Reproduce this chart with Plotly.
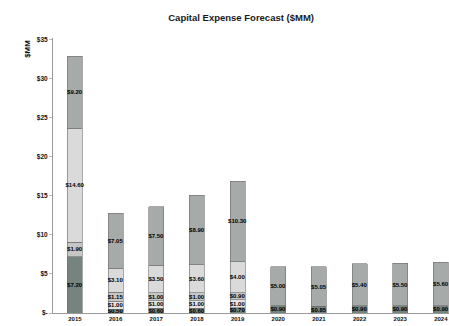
import plotly.graph_objects as go

# Capital expense forecast by year, $MM, stacked from the bottom segment up
years = ["2015", "2016", "2017", "2018", "2019", "2020", "2021", "2022", "2023", "2024"]
seg1 = [7.20, 0.50, 0.60, 0.60, 0.70, 0.90, 0.85, 0.90, 0.90, 0.90]
seg2 = [0.00, 1.00, 1.00, 1.00, 1.00, 0.00, 0.00, 0.00, 0.00, 0.00]
seg3 = [1.90, 1.15, 1.00, 1.00, 0.90, 0.00, 0.00, 0.00, 0.00, 0.00]
seg4 = [14.60, 3.10, 3.50, 3.60, 4.00, 0.00, 0.00, 0.00, 0.00, 0.00]
seg5 = [9.20, 7.05, 7.50, 8.90, 10.30, 5.00, 5.05, 5.40, 5.50, 5.60]

y_tickvals = [0, 5, 10, 15, 20, 25, 30, 35]
y_ticktext = ["$-", "$5", "$10", "$15", "$20", "$25", "$30", "$35"]

series = [
    (seg1, "#75847e"),
    (seg2, "#e4e4e4"),
    (seg3, "#c6c6c6"),
    (seg4, "#dadada"),
    (seg5, "#a6aba9"),
]

FONT = "Liberation Sans"

fig = go.Figure()
for vals, color in series:
    fig.add_trace(go.Bar(
        x=years,
        y=vals,
        marker=dict(color=color, line=dict(color="#6e6e6e", width=0.6)),
        text=[f"${v:.2f}" if v > 0 else "" for v in vals],
        textposition="inside",
        insidetextanchor="middle",
        textangle=0,
        textfont=dict(family=FONT, size=6, color="#000000", weight="bold"),
        hoverinfo="skip",
        showlegend=False,
    ))

fig.update_layout(
    width=449,
    height=326,
    margin=dict(l=53, r=0, t=38, b=13),
    barmode="stack",
    bargap=0.63,
    paper_bgcolor="white",
    plot_bgcolor="white",
    uniformtext=dict(minsize=6, mode="show"),
    title=dict(
        text="<b>Capital Expense Forecast ($MM)</b>",
        font=dict(family=FONT, size=9.5, color="#1a1a1a"),
        xref="container", x=0.537, xanchor="center",
        yref="container", y=0.945, yanchor="middle",
    ),
    xaxis=dict(
        type="category",
        range=[-0.54, 9.2],
        showline=True, linecolor="#9a9a9a", linewidth=1,
        showgrid=False, ticks="",
        tickfont=dict(family=FONT, size=6, color="#111111", weight="bold"),
    ),
    yaxis=dict(
        range=[0, 35.25],
        tickvals=y_tickvals, ticktext=y_ticktext,
        showline=True, linecolor="#9a9a9a", linewidth=1,
        showgrid=False, zeroline=False,
        ticks="outside", ticklen=3, tickcolor="#bbbbbb",
        tickfont=dict(family=FONT, size=6.5, color="#111111", weight="bold"),
    ),
    annotations=[dict(
        text="<b>$MM</b>", textangle=-90,
        xref="paper", x=-0.066, xanchor="center",
        yref="paper", y=0.96, yanchor="middle",
        showarrow=False,
        font=dict(family=FONT, size=8, color="#111111"),
    )],
)

fig.write_html("out.html")
